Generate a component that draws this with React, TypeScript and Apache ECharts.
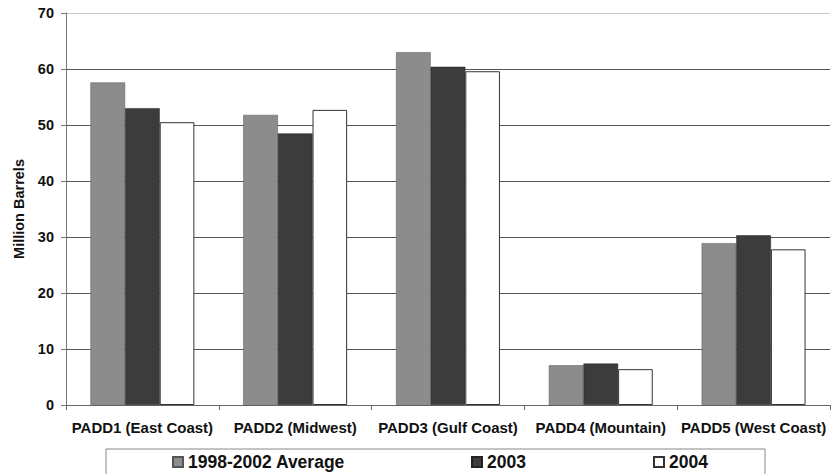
import React, { useEffect, useRef } from "react";
import * as echarts from "echarts";

const categories = [
  "PADD1 (East Coast)",
  "PADD2 (Midwest)",
  "PADD3 (Gulf Coast)",
  "PADD4 (Mountain)",
  "PADD5 (West Coast)",
];
const avg9802 = [57.6, 51.8, 63.0, 7.1, 28.9];
const y2003 = [53.0, 48.5, 60.4, 7.4, 30.3];
const y2004 = [50.5, 52.7, 59.6, 6.4, 27.8];
const seriesNames = ["1998-2002 Average", "2003", "2004"];

const FONT = "'Liberation Sans', Arial, sans-serif";

export default function App() {
  const ref = useRef<HTMLDivElement>(null);
  useEffect(() => {
    if (!ref.current) return;
    const chart = echarts.init(ref.current, null, { renderer: "svg" });
    const legendText = { fontFamily: FONT, fontWeight: "bold" as const, fontSize: 17.5, color: "#111" };
    const mkLegend = (name: string, left: number) => ({
      data: [name],
      left,
      top: 453,
      itemWidth: 10,
      itemHeight: 10,
      itemGap: 4,
      icon: "rect",
      textStyle: legendText,
      padding: 0,
    });
    chart.setOption({
      animation: false,
      backgroundColor: "#fff",
      grid: { left: 66, right: 3, top: 13, bottom: 69, containLabel: false },
      legend: [mkLegend(seriesNames[0], 172), mkLegend(seriesNames[1], 471), mkLegend(seriesNames[2], 653)],
      graphic: [
        {
          type: "rect",
          shape: { x: 106, y: 449, width: 659, height: 32 },
          style: { fill: "none", stroke: "#888", lineWidth: 1 },
          z: -1,
        },
      ],
      xAxis: {
        type: "category",
        data: categories,
        axisLine: { show: true, lineStyle: { color: "#666", width: 1 } },
        axisTick: { show: true, length: 5, lineStyle: { color: "#666" } },
        axisLabel: { interval: 0, fontFamily: FONT, fontWeight: "bold", fontSize: 15, color: "#111", margin: 15 },
      },
      yAxis: {
        type: "value",
        min: 0,
        max: 70,
        interval: 10,
        name: "Million Barrels",
        nameLocation: "middle",
        nameGap: 40,
        nameTextStyle: { fontFamily: FONT, fontWeight: "bold", fontSize: 14.5, color: "#111" },
        axisLine: { show: true, lineStyle: { color: "#777", width: 1 } },
        axisTick: { show: true, length: 5, lineStyle: { color: "#777" } },
        axisLabel: { fontFamily: FONT, fontWeight: "bold", fontSize: 14.5, color: "#111", margin: 12 },
        splitLine: {
          show: true,
          lineStyle: { color: ["#555", "#555", "#555", "#555", "#555", "#555", "#555", "#c8c8c8"], width: 1 },
        },
      },
      series: [
        {
          name: seriesNames[0],
          type: "bar",
          data: avg9802,
          barGap: "0%",
          barCategoryGap: "32%",
          itemStyle: { color: "#8c8c8c", borderColor: "#555", borderWidth: 0.5 },
        },
        {
          name: seriesNames[1],
          type: "bar",
          data: y2003,
          itemStyle: { color: "#3c3c3c", borderColor: "#222", borderWidth: 0.5 },
        },
        {
          name: seriesNames[2],
          type: "bar",
          data: y2004,
          itemStyle: { color: "#ffffff", borderColor: "#333", borderWidth: 1 },
        },
      ],
    });
    return () => chart.dispose();
  }, []);
  return <div ref={ref} style={{ width: 833, height: 474, position: "absolute", left: 0, top: 0 }} />;
}
